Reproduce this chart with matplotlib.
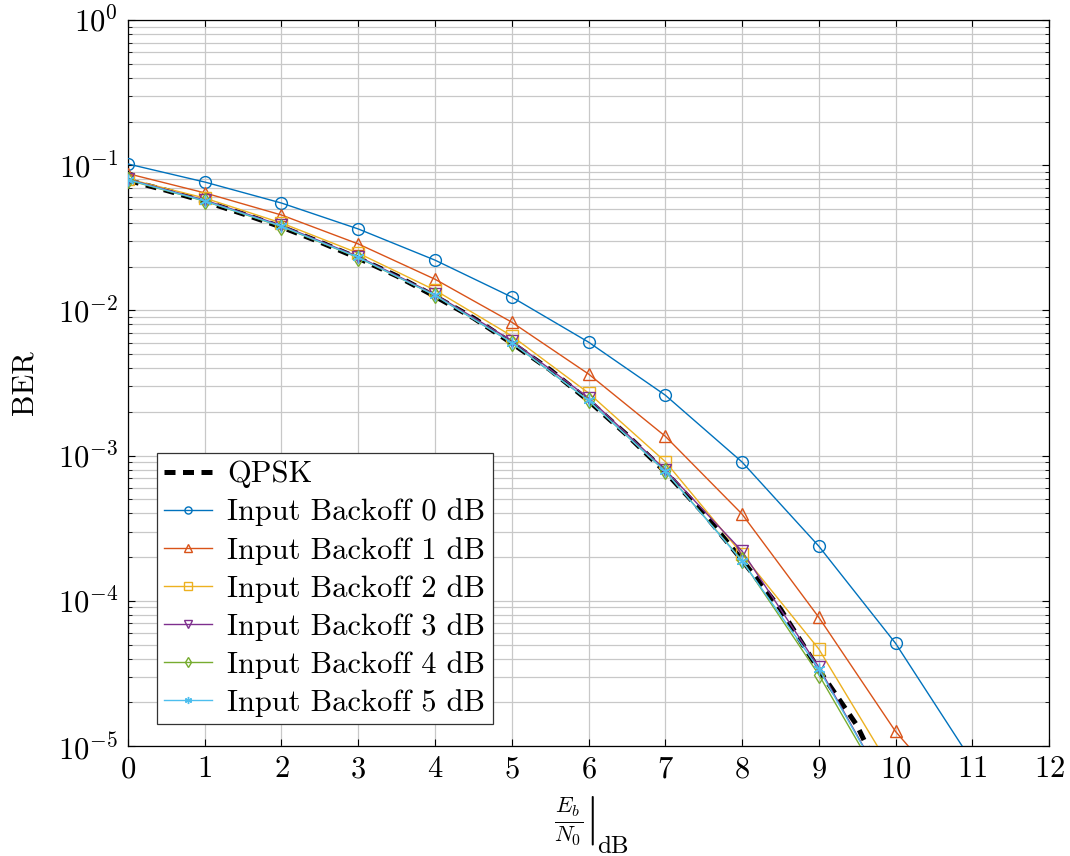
import numpy as np
import matplotlib
matplotlib.use('Agg')
import matplotlib.pyplot as plt
from matplotlib.ticker import LogLocator, FixedLocator, NullFormatter

plt.rcParams['font.family'] = ['cmr10', 'DejaVu Serif']
plt.rcParams['mathtext.fontset'] = 'cm'
plt.rcParams['axes.formatter.use_mathtext'] = True
plt.rcParams['axes.unicode_minus'] = False

# Eb/N0 in dB
ebn0 = [0, 1, 2, 3, 4, 5, 6, 7, 8, 9, 10, 11]

# QPSK reference curve (read at half-dB steps)
qpsk_x = [0, 0.5, 1, 1.5, 2, 2.5, 3, 3.5, 4, 4.5, 5, 5.5, 6, 6.5, 7, 7.5,
          8, 8.5, 9, 9.5, 10]
qpsk_ber = [0.0786, 0.0671, 0.0563, 0.0462, 0.0375, 0.0296, 0.0229, 0.0173,
            0.0125, 0.00888, 0.00595, 0.00390, 0.00239, 0.00139, 0.000773,
            0.000401, 0.000191, 8.8e-5, 3.36e-5, 1.38e-5, 3.87e-6]

ibo0 = [0.102, 0.0766, 0.0549, 0.0364, 0.0222, 0.01236, 0.00605, 0.00261,
        0.000904, 0.000238, 5.1e-5, 7.8e-6]
ibo1 = [0.0875, 0.0645, 0.0454, 0.0287, 0.0164, 0.0083, 0.00365, 0.00136,
        0.000396, 7.7e-5, 1.26e-5, 3.1e-6]
ibo2 = [0.0805, 0.0594, 0.0400, 0.0248, 0.0138, 0.00667, 0.0027, 0.00091,
        0.00021, 4.66e-5, 6.2e-6]
ibo3 = [0.0800, 0.0575, 0.0385, 0.0235, 0.0129, 0.0062, 0.0025, 0.00080,
        0.00022, 3.5e-5, 4.0e-6]
ibo4 = [0.0790, 0.0566, 0.0378, 0.0231, 0.0127, 0.0060, 0.0024, 0.00078,
        0.000190, 3.1e-5, 3.8e-6]
ibo5 = [0.0795, 0.0568, 0.0380, 0.0232, 0.0127, 0.0060, 0.0024, 0.00078,
        0.000188, 3.4e-5, 4.0e-6]

series = [
    ('Input Backoff 0 dB', ibo0, '#0072BD', 'o'),
    ('Input Backoff 1 dB', ibo1, '#D95319', '^'),
    ('Input Backoff 2 dB', ibo2, '#EDB120', 's'),
    ('Input Backoff 3 dB', ibo3, '#7E2F8E', 'v'),
    ('Input Backoff 4 dB', ibo4, '#77AC30', 'd'),
    ('Input Backoff 5 dB', ibo5, '#4DBEEE', (6, 2, 0)),
]

FS = 22

fig = plt.figure(figsize=(10.7, 8.56), dpi=100)
ax = fig.add_axes([0.1196, 0.1285, 0.8608, 0.8481])

ax.plot(qpsk_x, qpsk_ber, color='black', linestyle=(0, (2.2, 1.5)),
        linewidth=3.6, label='QPSK', zorder=2)
for name, vals, col, mk in series:
    ax.plot(ebn0[:len(vals)], vals, color=col, marker=mk, markersize=8.5,
            markerfacecolor='none', markeredgewidth=1, linewidth=1,
            label=name, zorder=3)

ax.set_yscale('log')
ax.set_xlim(0, 12)
ax.set_ylim(1e-5, 1)
ax.xaxis.set_major_locator(FixedLocator(range(13)))
ax.yaxis.set_major_locator(LogLocator(base=10, numticks=10))
ax.yaxis.set_minor_locator(LogLocator(base=10, subs=np.arange(2, 10), numticks=20))
ax.yaxis.set_minor_formatter(NullFormatter())

ax.grid(True, which='major', color='#c8c8c8', linewidth=0.9)
ax.grid(True, which='minor', axis='y', color='#c8c8c8', linewidth=0.9)
ax.set_axisbelow(True)

ax.tick_params(which='both', direction='in', top=True, right=True,
               labelsize=FS, pad=7)
ax.tick_params(which='major', length=5, width=0.8)
ax.tick_params(which='minor', length=3, width=0.6)
for sp in ax.spines.values():
    sp.set_linewidth(0.9)

# x label: fraction with evaluation bar, "dB" set low like a LaTeX subscript
ax.set_xlabel(r'$\left.\frac{E_b}{N_0}\right|$', fontsize=FS + 1)
ax.xaxis.set_label_coords(0.485, -0.068)
fig.text(597 / 1070, 3 / 856, 'dB', fontsize=FS - 4, ha='left', va='baseline')
ax.set_ylabel('BER', fontsize=FS, labelpad=14)

leg = ax.legend(loc='lower left', bbox_to_anchor=(0.031, 0.03), fontsize=FS,
                frameon=True, fancybox=False, edgecolor='#333333',
                framealpha=1, borderpad=0.25, labelspacing=0.33,
                handlelength=1.55, handletextpad=0.5, borderaxespad=0,
                markerscale=0.6)
leg.get_frame().set_linewidth(0.9)

fig.savefig('out.png', dpi=100)
